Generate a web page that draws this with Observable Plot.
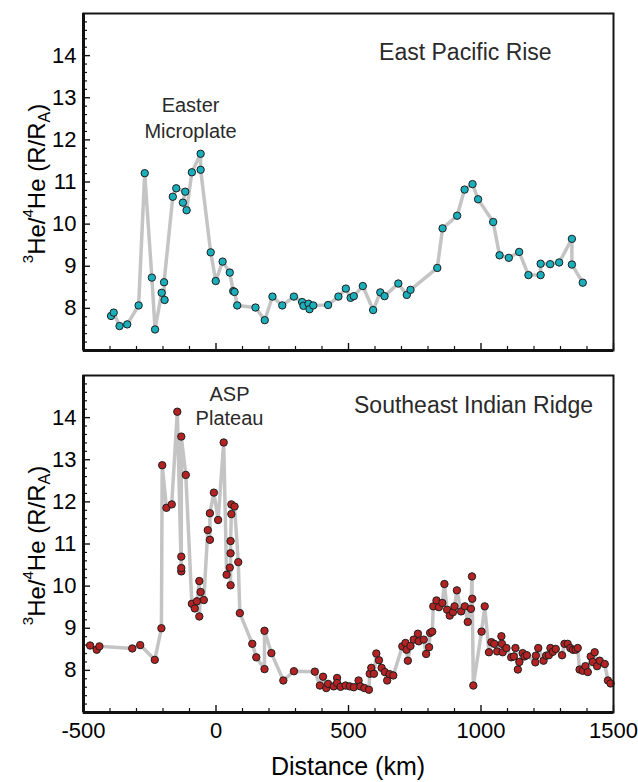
<!DOCTYPE html>
<html>
<head>
<meta charset="utf-8">
<script src="https://cdn.jsdelivr.net/npm/d3@7"></script>
<script src="https://cdn.jsdelivr.net/npm/@observablehq/plot@0.6"></script>
<style>
  body { margin: 0; background: #fff; }
  #chart { width: 638px; height: 782px; font-family: "Liberation Sans", Arial, Helvetica, sans-serif; }
  #chart svg { display: block; overflow: visible; }
</style>
</head>
<body>
<div id="chart"></div>
<script>
// East Pacific Rise: distance (km) and 3He/4He (R/RA)
const epDist = [-396, -386, -364, -335, -292, -269, -242, -230, -205, -194, -196, -163, -150, -116, -125, -111, -91, -58, -58, -20, -1, 25, 52, 65, 70, 80, 149, 184, 213, 250, 294, 325, 330, 349, 353, 367, 423, 462, 490, 508, 520, 554, 593, 620, 636, 688, 720, 734, 835, 855, 910, 938, 968, 989, 1046, 1070, 1105, 1144, 1179, 1225, 1225, 1261, 1295, 1343, 1343, 1384];
const epHe   = [7.82, 7.90, 7.58, 7.62, 8.07, 11.21, 8.73, 7.50, 8.37, 8.20, 8.62, 10.65, 10.85, 10.77, 10.51, 10.33, 11.23, 11.67, 11.29, 9.33, 8.65, 9.11, 8.85, 8.41, 8.39, 8.07, 8.02, 7.72, 8.28, 8.07, 8.28, 8.15, 8.06, 8.11, 7.98, 8.07, 8.08, 8.28, 8.47, 8.25, 8.29, 8.53, 7.96, 8.38, 8.29, 8.59, 8.32, 8.44, 8.96, 9.90, 10.20, 10.82, 10.95, 10.59, 10.05, 9.26, 9.20, 9.34, 8.79, 8.79, 9.06, 9.05, 9.09, 9.65, 9.04, 8.61];

// Southeast Indian Ridge: distance (km) and 3He/4He (R/RA)
const seDist = [-475, -450, -440, -316, -286, -231, -206, -203, -187, -167, -146, -131, -131, -131, -131, -114, -91, -80, -72, -63, -63, -58, -46, -31, -23, -23, -8, 8, 29, 40, 52, 55, 55, 55, 58, 58, 70, 84, 90, 137, 152, 183, 183, 209, 254, 294, 373, 392, 404, 416, 423, 444, 457, 457, 470, 489, 505, 520, 538, 545, 560, 577, 580, 586, 596, 605, 615, 625, 637, 646, 655, 669, 703, 715, 719, 724, 734, 746, 762, 765, 784, 793, 804, 808, 816, 820, 832, 841, 854, 862, 872, 882, 894, 900, 909, 925, 939, 950, 962, 966, 967, 971, 1002, 1014, 1030, 1039, 1050, 1061, 1077, 1079, 1082, 1096, 1114, 1124, 1130, 1139, 1145, 1157, 1164, 1173, 1205, 1207, 1216, 1236, 1246, 1256, 1262, 1271, 1282, 1306, 1315, 1327, 1337, 1347, 1357, 1365, 1372, 1384, 1394, 1403, 1414, 1422, 1429, 1438, 1448, 1467, 1479, 1489];
const seHe   = [8.59, 8.49, 8.57, 8.52, 8.60, 8.25, 9.00, 12.87, 11.86, 11.94, 14.14, 10.35, 10.43, 10.70, 13.55, 12.64, 9.58, 9.47, 9.64, 10.12, 9.28, 9.86, 9.67, 11.33, 11.10, 11.73, 12.22, 11.57, 13.41, 10.27, 10.44, 10.02, 10.78, 11.07, 11.71, 11.94, 11.89, 10.57, 9.36, 8.63, 8.31, 8.03, 8.94, 8.41, 7.76, 7.98, 7.97, 7.64, 7.85, 7.58, 7.68, 7.62, 7.82, 7.70, 7.61, 7.64, 7.62, 7.60, 7.76, 7.62, 7.58, 7.54, 7.92, 8.06, 7.92, 8.40, 8.24, 8.06, 7.96, 7.76, 7.91, 7.88, 8.57, 8.65, 8.49, 8.23, 8.58, 8.73, 8.87, 8.69, 8.73, 8.39, 8.55, 8.89, 8.92, 9.52, 9.66, 9.50, 9.60, 10.05, 9.44, 9.30, 9.38, 9.52, 9.90, 9.40, 9.52, 9.15, 9.46, 10.23, 9.70, 7.64, 8.92, 9.52, 8.43, 8.67, 8.63, 8.45, 8.81, 8.63, 8.43, 8.53, 8.31, 8.33, 8.53, 8.02, 8.20, 8.41, 8.33, 8.36, 8.19, 8.35, 8.53, 8.23, 8.35, 8.36, 8.53, 8.44, 8.51, 8.36, 8.63, 8.63, 8.53, 8.49, 8.49, 8.53, 8.02, 7.99, 8.10, 7.96, 8.33, 8.20, 8.43, 8.10, 8.23, 8.15, 7.76, 7.69];

// Axis ticks and labels
const xMajorTicks = [-500, 0, 500, 1000, 1500];
const xMinorTicks = [-400, -300, -200, -100, 100, 200, 300, 400, 600, 700, 800, 900, 1100, 1200, 1300, 1400];
const yMajorTicks = [8, 9, 10, 11, 12, 13, 14];
const yMinorTicks = d3.range(70, 151, 2).filter(v => v % 10 !== 0).map(v => v / 10);
const panelNames = ["East Pacific Rise", "Southeast Indian Ridge"];
const featureNames = ["Easter\nMicroplate", "ASP\nPlateau"];
const xLabel = "Distance (km)";

const FONT = '"Liberation Sans", Arial, Helvetica, sans-serif';
const W = 638, ML = 83, MR = 25;

function panel(cfg) {
  const data = cfg.dist.map((d, i) => ({d, he: cfg.he[i]}));
  const plotW = W - ML - MR;
  const plotH = cfg.height - cfg.marginTop - cfg.marginBottom;
  const marks = [
    Plot.line(data, {x: "d", y: "he", stroke: "#c4c4c4", strokeWidth: 3.5, strokeLinejoin: "round", strokeLinecap: "round"}),
    Plot.dot(data, {x: "d", y: "he", r: 3.7, fill: cfg.fill, stroke: "#1e1e1e", strokeWidth: 1}),
    // inward ticks on left and bottom
    Plot.tickY(yMinorTicks, {y: d => d, stroke: "#111", strokeWidth: 1.2, insetRight: plotW - 4}),
    Plot.tickY(yMajorTicks, {y: d => d, stroke: "#111", strokeWidth: 1.4, insetRight: plotW - 7}),
    Plot.tickX(xMinorTicks, {x: d => d, stroke: "#111", strokeWidth: 1.2, insetTop: plotH - 4}),
    Plot.tickX(xMajorTicks, {x: d => d, stroke: "#111", strokeWidth: 1.4, insetTop: plotH - 7}),
    Plot.axisY({ticks: yMajorTicks, tickSize: 0, tickPadding: 7, label: null, fontSize: 22, tickFormat: d => String(d)}),
    ...(cfg.showX ? [Plot.axisX({ticks: xMajorTicks, tickSize: 0, tickPadding: 10, label: null, fontSize: 22, tickFormat: d => String(d)})] : []),
    Plot.frame({stroke: "#151515", strokeWidth: 2}),
    Plot.ruleX([-500], {stroke: "#111", strokeWidth: 3}),
    Plot.ruleY([7], {stroke: "#111", strokeWidth: 3}),
    Plot.text([cfg.name], {x: cfg.nameX, y: cfg.nameY, text: d => d, fontSize: 23, fill: "#2a2a2a", lineAnchor: "bottom", textAnchor: "middle"}),
    Plot.text([cfg.feature], {x: cfg.featX, y: cfg.featY, text: d => d, fontSize: 20, fill: "#2a2a2a", lineAnchor: "bottom", textAnchor: "middle", lineHeight: cfg.featLH})
  ];
  const svg = Plot.plot({
    width: W,
    height: cfg.height,
    marginLeft: ML,
    marginRight: MR,
    marginTop: cfg.marginTop,
    marginBottom: cfg.marginBottom,
    x: {domain: [-500, 1500], label: null, axis: null},
    y: {domain: [7, 15], label: null, axis: null},
    style: {fontFamily: FONT, fontSize: "22px", color: "#000", background: "#fff", overflow: "visible"},
    marks
  });
  // y-axis title with super/subscripts
  const cy = (cfg.marginTop + cfg.height - cfg.marginBottom) / 2 + 2;
  const t = d3.select(svg).append("text")
    .attr("transform", `translate(45,${cy}) rotate(-90)`)
    .attr("text-anchor", "middle")
    .attr("font-family", FONT)
    .attr("font-size", 24)
    .attr("fill", "#000");
  t.append("tspan").attr("font-size", 15).attr("dy", -12).text("3");
  t.append("tspan").attr("dy", 12).text("He/");
  t.append("tspan").attr("font-size", 15).attr("dy", -12).text("4");
  t.append("tspan").attr("dy", 12).text("He (R/R");
  t.append("tspan").attr("font-size", 16).attr("dy", 5).text("A");
  t.append("tspan").attr("dy", -5).text(")");
  if (cfg.showX) {
    d3.select(svg).append("text")
      .attr("x", ML + plotW / 2)
      .attr("y", cfg.height - cfg.marginBottom + 63)
      .attr("text-anchor", "middle")
      .attr("font-family", FONT)
      .attr("font-size", 25)
      .attr("fill", "#000")
      .text(xLabel);
  }
  return svg;
}

const chart = document.getElementById("chart");
chart.appendChild(panel({
  dist: epDist, he: epHe, fill: "#1aafbb",
  height: 352, marginTop: 13, marginBottom: 2, showX: false,
  name: panelNames[0], nameX: 941, nameY: 13.9,
  feature: featureNames[0], featX: -96, featY: 12.05, featLH: 1.3
}));
chart.appendChild(panel({
  dist: seDist, he: seHe, fill: "#b42324",
  height: 430, marginTop: 23, marginBottom: 70, showX: true,
  name: panelNames[1], nameX: 972, nameY: 14.11,
  feature: featureNames[1], featX: 51, featY: 13.82, featLH: 1.2
}));
</script>
</body>
</html>
